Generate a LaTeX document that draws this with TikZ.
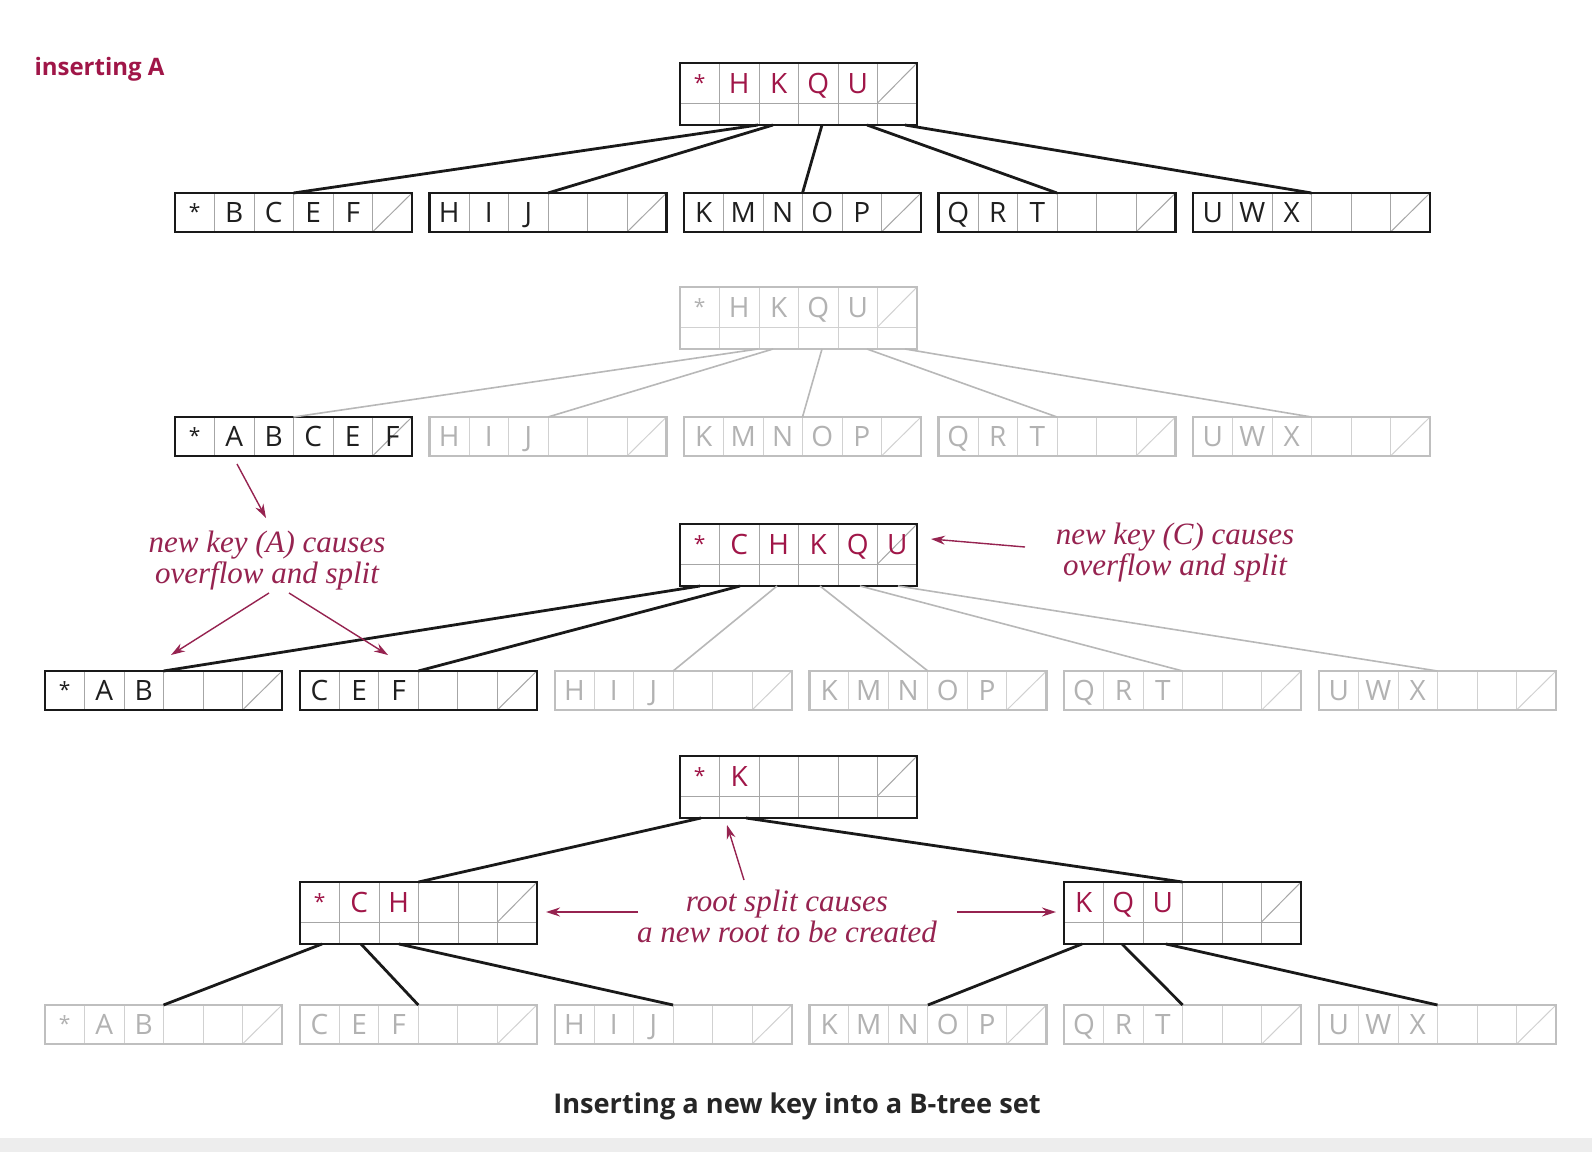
\documentclass[tikz,border=0pt]{standalone}
\usepackage{fontspec}
\newfontfamily\keyfont{Open Sans}
\newfontfamily\annfont{Liberation Serif}
\usetikzlibrary{arrows.meta,calc}
\definecolor{crim}{RGB}{160,22,72}
\definecolor{anncol}{RGB}{150,35,80}
\newcommand\st{{\fontsize{10.5}{12}\selectfont\raisebox{1.5pt}{*}}}
\tikzset{
  boxon/.style={draw=black!90, line width=1.3pt},
  boxoff/.style={draw=black!25, line width=1.1pt},
  divon/.style={draw=black!35, line width=0.5pt},
  divoff/.style={draw=black!18, line width=0.5pt},
  leafkeyon/.style={text=black!88},
  leafkeyoff/.style={text=black!30},
  innerkeyon/.style={text=crim},
  innerkeyoff/.style={text=black!30},
  edgeon/.style={draw=black!90, line width=1.4pt},
  edgeoff/.style={draw=black!28, line width=0.8pt},
  keytext/.style={font=\keyfont\fontsize{14}{16}\selectfont, anchor=base, inner sep=0},
  ann/.style={font=\annfont\itshape\fontsize{15.5}{15.5}\selectfont, text=anncol, align=center, inner sep=0},
  annarrow/.style={draw=anncol, line width=0.7pt, -{Stealth[length=7pt,width=4.5pt]}},
  shell/.style={inner sep=0, outer sep=0, minimum width=118.5pt, anchor=north west},
}
\newcommand\leafnode[5]{%
  \foreach \i in {1,...,5}{\draw[div#4] ({#2+\i*39.5},{#3}) -- ({#2+\i*39.5},{#3+39});}
  \draw[div#4] ({#2+197.5},{#3+39}) -- ({#2+237},{#3});
  \foreach \k [count=\i] in {#5}{\node[keytext,leafkey#4] at ({#2+\i*39.5-19.75},{#3+29}) {\k};}
  \node[shell,box#4,minimum height=19.5pt] (#1) at (#2,#3) {};
}
\newcommand\innernode[5]{%
  \foreach \i in {1,...,5}{\draw[div#4] ({#2+\i*39.5},{#3}) -- ({#2+\i*39.5},{#3+62});}
  \draw[div#4] ({#2},{#3+40}) -- ({#2+237},{#3+40});
  \draw[div#4] ({#2+197.5},{#3+40}) -- ({#2+237},{#3});
  \foreach \k [count=\i] in {#5}{\node[keytext,innerkey#4] at ({#2+\i*39.5-19.75},{#3+30}) {\k};}
  \node[shell,box#4,minimum height=31pt] (#1) at (#2,#3) {};
}
\begin{document}
\begin{tikzpicture}[x=0.5pt,y=-0.5pt]
\useasboundingbox (0,0) rectangle (1592,1152);
\fill[white] (0,0) rectangle (1592,1152);
\fill[black!7] (0,1138) rectangle (1592,1152);

\node[font=\keyfont\bfseries\fontsize{12}{14}\selectfont, text=crim, inner sep=0] (title) at (99.5,69) {inserting A};

% ---------- tree 1 ----------
\innernode{ra}{680}{63}{on}{\st,H,K,Q,U}
\leafnode{a1}{175}{193}{on}{\st,B,C,E,F}
\leafnode{a2}{429.5}{193}{on}{H,I,J}
\leafnode{a3}{684}{193}{on}{K,M,N,O,P}
\leafnode{a4}{938.5}{193}{on}{Q,R,T}
\leafnode{a5}{1193}{193}{on}{U,W,X}
\draw[edgeon] ($(ra.south west)+(78,0)$) -- (a1.north);
\draw[edgeon] ($(ra.south west)+(93,0)$) -- (a2.north);
\draw[edgeon] ($(ra.south west)+(142,0)$) -- (a3.north);
\draw[edgeon] ($(ra.south west)+(187,0)$) -- (a4.north);
\draw[edgeon] ($(ra.south west)+(225,0)$) -- (a5.north);

% ---------- tree 2 ----------
\innernode{rb}{680}{287}{off}{\st,H,K,Q,U}
\leafnode{b1}{175}{417}{on}{\st,A,B,C,E,F}
\leafnode{b2}{429.5}{417}{off}{H,I,J}
\leafnode{b3}{684}{417}{off}{K,M,N,O,P}
\leafnode{b4}{938.5}{417}{off}{Q,R,T}
\leafnode{b5}{1193}{417}{off}{U,W,X}
\draw[edgeoff] ($(rb.south west)+(78,0)$) -- (b1.north);
\draw[edgeoff] ($(rb.south west)+(93,0)$) -- (b2.north);
\draw[edgeoff] ($(rb.south west)+(142,0)$) -- (b3.north);
\draw[edgeoff] ($(rb.south west)+(187,0)$) -- (b4.north);
\draw[edgeoff] ($(rb.south west)+(225,0)$) -- (b5.north);

% ---------- tree 3 ----------
\innernode{rc}{680}{524}{on}{\st,C,H,K,Q,U}
\leafnode{c1}{45}{671}{on}{\st,A,B}
\leafnode{c2}{299.8}{671}{on}{C,E,F}
\leafnode{c3}{554.6}{671}{off}{H,I,J}
\leafnode{c4}{809.4}{671}{off}{K,M,N,O,P}
\leafnode{c5}{1064.2}{671}{off}{Q,R,T}
\leafnode{c6}{1319}{671}{off}{U,W,X}
\draw[edgeoff] ($(rc.south west)+(97,0)$) -- (c3.north);
\draw[edgeoff] ($(rc.south west)+(140,0)$) -- (c4.north);
\draw[edgeoff] ($(rc.south west)+(180,0)$) -- (c5.north);
\draw[edgeoff] ($(rc.south west)+(218,0)$) -- (c6.north);
\draw[edgeon] ($(rc.south west)+(20,0)$) -- (c1.north);
\draw[edgeon] ($(rc.south west)+(60,0)$) -- (c2.north);

% ---------- tree 4 ----------
\innernode{rd}{680}{756}{on}{\st,K}
\innernode{m1}{300}{882}{on}{\st,C,H}
\innernode{m2}{1064}{882}{on}{K,Q,U}
\leafnode{d1}{45}{1005}{off}{\st,A,B}
\leafnode{d2}{299.8}{1005}{off}{C,E,F}
\leafnode{d3}{554.6}{1005}{off}{H,I,J}
\leafnode{d4}{809.4}{1005}{off}{K,M,N,O,P}
\leafnode{d5}{1064.2}{1005}{off}{Q,R,T}
\leafnode{d6}{1319}{1005}{off}{U,W,X}
\draw[edgeon] ($(rd.south west)+(21,0)$) -- (m1.north);
\draw[edgeon] ($(rd.south west)+(66,0)$) -- (m2.north);
\draw[edgeon] ($(m1.south west)+(22,0)$) -- (d1.north);
\draw[edgeon] ($(m1.south west)+(61,0)$) -- (d2.north);
\draw[edgeon] ($(m1.south west)+(99,0)$) -- (d3.north);
\draw[edgeon] ($(m2.south west)+(18,0)$) -- (d4.north);
\draw[edgeon] ($(m2.south west)+(58,0)$) -- (d5.north);
\draw[edgeon] ($(m2.south west)+(102,0)$) -- (d6.north);

% ---------- annotations ----------
\node[ann] (n1) at (267,561) {new key (A) causes\\overflow and split};
\node[ann] (n2) at (1175,553) {new key (C) causes\\overflow and split};
\node[ann] (n3) at (787,916) {root split causes\\a new root to be created};

\coordinate (p1) at ($(b1.south west)+(62,8)$);
\coordinate (p2) at (266,518);
\coordinate (p3) at (269,593);
\coordinate (p4) at (171,655);
\coordinate (p5) at (289,593);
\coordinate (p6) at (388,655);
\coordinate (p7) at (1025,547);
\coordinate (p8) at ($(rc.east)+(14,-16)$);
\coordinate (p9) at (744,880);
\coordinate (p10) at (727,825);
\coordinate (p11) at (638,912);
\coordinate (p12) at ($(m1.east)+(9,-1)$);
\coordinate (p13) at (957,912);
\coordinate (p14) at ($(m2.west)+(-8,-1)$);
\draw[annarrow] (p1) -- (p2);
\draw[annarrow] (p3) -- (p4);
\draw[annarrow] (p5) -- (p6);
\draw[annarrow] (p7) -- (p8);
\draw[annarrow] (p9) -- (p10);
\draw[annarrow] (p11) -- (p12);
\draw[annarrow] (p13) -- (p14);

\node[font=\keyfont\bfseries\fontsize{13.6}{15}\selectfont, text=black!85, inner sep=0] (cap) at (797,1106) {Inserting a new key into a B-tree set};
\end{tikzpicture}
\end{document}
